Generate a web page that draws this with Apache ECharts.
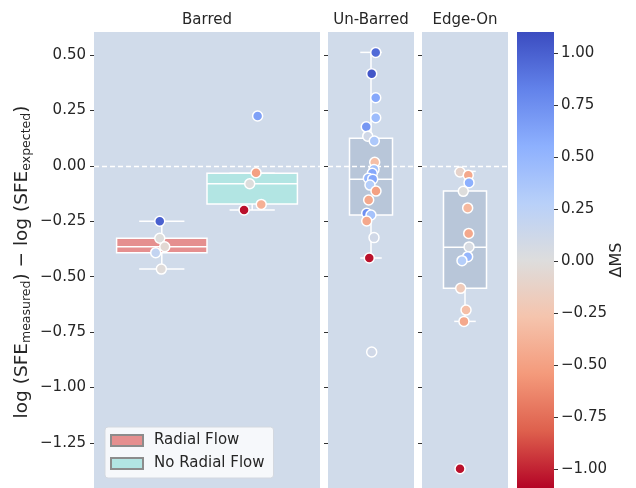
<!DOCTYPE html>
<html><head><meta charset="utf-8">
<script src="https://cdn.jsdelivr.net/npm/echarts@6/dist/echarts.min.js"></script>
<style>html,body{margin:0;padding:0;background:#fff}#c{width:636px;height:488px}</style>
</head><body><div id="c"></div>
<script>
// ---------- data ----------
const panelNames = ['Barred', 'Un-Barred', 'Edge-On'];
const hueNames = ['Radial Flow', 'No Radial Flow'];
const yTicks = [0.5, 0.25, 0, -0.25, -0.5, -0.75, -1.0, -1.25];
const cbTicks = [1.0, 0.75, 0.5, 0.25, 0, -0.25, -0.5, -0.75, -1.0];

// Barred, Radial Flow
const radialX  = [-0.209, -0.209, -0.187, -0.227, -0.202];
const radialY  = [-0.250, -0.327, -0.365, -0.392, -0.466];
const radialMS = [1.0, 0.0, -0.05, 0.2, -0.02];
const radialBox = [-0.466, -0.392, -0.365, -0.327, -0.250]; // lo, q1, med, q3, hi

// Barred, No Radial Flow
const noRadX  = [0.217, 0.189, 0.240, 0.164, 0.224];
const noRadY  = [-0.031, -0.081, -0.174, -0.199, 0.225];
const noRadMS = [-0.5, 0.0, -0.4, -1.05, 0.65];
const noRadBox = [-0.199, -0.172, -0.081, -0.034, -0.034];

// Un-Barred
const unbX  = [0.055, 0.008, 0.055, 0.055, -0.055, -0.038, 0.038, 0.043, 0.035, 0.015, -0.031, 0.020, -0.012, 0.058, -0.027, -0.050, 0.000, -0.050, 0.035, -0.020, 0.008];
const unbY  = [0.512, 0.416, 0.307, 0.217, 0.176, 0.134, 0.112, 0.016, -0.016, -0.034, -0.056, -0.060, -0.087, -0.114, -0.154, -0.214, -0.222, -0.249, -0.324, -0.416, -0.840];
const unbMS = [0.95, 1.05, 0.6, 0.45, 0.7, 0.1, 0.35, -0.3, 0.4, 0.6, 0.5, 0.6, 0.3, -0.5, -0.45, 0.75, 0.4, -0.45, 0.1, -1.05, 0.1];
const unbBox = [-0.416, -0.222, -0.060, 0.124, 0.512];

// Edge-On
const edgeX  = [-0.058, 0.038, 0.047, -0.020, 0.031, 0.043, 0.047, 0.031, -0.035, -0.050, 0.012, -0.012, -0.058];
const edgeY  = [-0.028, -0.042, -0.076, -0.115, -0.190, -0.305, -0.366, -0.410, -0.428, -0.553, -0.651, -0.702, -1.367];
const edgeMS = [-0.1, -0.45, 0.55, 0.0, -0.35, -0.45, 0.05, 0.5, 0.3, -0.2, -0.3, -0.45, -1.05];
const edgeBox = [-0.702, -0.553, -0.368, -0.114, -0.025];

// ---------- styling / layout ----------
const yMin = -1.454, yMax = 0.604;
const cbMin = -1.09, cbMax = 1.10;
const FONT = 'DejaVu Sans';
const TXT = '#262626';
const BG = '#d0dbea';
const coolwarm = ['#3b4cc0', '#6282ea', '#8db0fe', '#b8d0f9', '#dddddd', '#f5c4ad', '#f49a7b', '#de604d', '#b40426'];
const coolwarmRev = coolwarm.slice().reverse();
const fmt = v => (v < 0 ? '\u2212' : '') + Math.abs(v).toFixed(2);

const grids = [
  {left: 94, top: 32, width: 226, height: 456},
  {left: 328, top: 32, width: 86, height: 456},
  {left: 422, top: 32, width: 86, height: 456},
  {left: 517, top: 32, width: 37, height: 456}
].map(g => Object.assign(g, {show: g.left < 500, backgroundColor: BG, borderWidth: 0, containLabel: false}));

const xAxes = [0, 1, 2].map(i => ({gridIndex: i, type: 'value', min: -0.5, max: 0.5, show: false}));
xAxes.push({gridIndex: 3, type: 'value', min: 0, max: 1, show: false});

const yAxes = [0, 1, 2].map(i => ({
  gridIndex: i, type: 'value', position: 'left', min: yMin, max: yMax,
  axisLine: {show: false, onZero: false},
  axisTick: {show: true, length: 4, lineStyle: {color: '#333', width: 1}, customValues: yTicks},
  axisLabel: {show: i === 0, customValues: yTicks, formatter: fmt, fontSize: 15, fontFamily: FONT, color: TXT, margin: 8},
  splitLine: {show: false}
}));
yAxes.push({
  gridIndex: 3, type: 'value', position: 'right', min: cbMin, max: cbMax,
  axisLine: {show: false, onZero: false},
  axisTick: {show: true, length: 4, lineStyle: {color: '#333', width: 1}, customValues: cbTicks},
  axisLabel: {customValues: cbTicks, formatter: fmt, fontSize: 15, fontFamily: FONT, color: TXT, margin: 7},
  splitLine: {show: false}
});

function boxRender(width, fill) {
  return function (params, api) {
    const c = api.value(0);
    const lo = api.value(1), q1 = api.value(2), med = api.value(3), q3 = api.value(4), hi = api.value(5);
    const tl = api.coord([c - width / 2, q3]);
    const br = api.coord([c + width / 2, q1]);
    const cx = api.coord([c, med])[0];
    const capL = api.coord([c - width / 4, lo])[0], capR = api.coord([c + width / 4, lo])[0];
    const yLo = api.coord([c, lo])[1], yHi = api.coord([c, hi])[1], yMed = api.coord([c, med])[1];
    const ls = {stroke: '#fff', lineWidth: 1.5};
    return {type: 'group', children: [
      {type: 'line', shape: {x1: cx, y1: br[1], x2: cx, y2: yLo}, style: ls},
      {type: 'line', shape: {x1: cx, y1: tl[1], x2: cx, y2: yHi}, style: ls},
      {type: 'line', shape: {x1: capL, y1: yLo, x2: capR, y2: yLo}, style: ls},
      {type: 'line', shape: {x1: capL, y1: yHi, x2: capR, y2: yHi}, style: ls},
      {type: 'rect', shape: {x: tl[0], y: tl[1], width: br[0] - tl[0], height: br[1] - tl[1]}, style: {fill: fill, stroke: '#fff', lineWidth: 1.5}},
      {type: 'line', shape: {x1: tl[0], y1: yMed, x2: br[0], y2: yMed}, style: ls}
    ]};
  };
}

const zeroLine = {silent: true, symbol: 'none', label: {show: false},
  lineStyle: {color: '#fff', type: [5, 3], width: 1.4}, data: [{yAxis: 0}]};

const boxSeries = [
  {name: hueNames[0], grid: 0, center: -0.2, width: 0.4, fill: '#e58f8f', stats: radialBox},
  {name: hueNames[1], grid: 0, center: 0.2, width: 0.4, fill: '#b2e5e3', stats: noRadBox},
  {name: 'Un-Barred box', grid: 1, center: 0, width: 0.5, fill: '#b8c6d9', stats: unbBox},
  {name: 'Edge-On box', grid: 2, center: 0, width: 0.5, fill: '#b8c6d9', stats: edgeBox}
].map((b, i) => ({
  type: 'custom', name: b.name, xAxisIndex: b.grid, yAxisIndex: b.grid, z: 2,
  itemStyle: {color: b.fill, borderColor: '#8c8c8c', borderWidth: 1},
  renderItem: boxRender(b.width, b.fill),
  encode: {x: 0, y: [1, 2, 3, 4, 5]},
  data: [[b.center].concat(b.stats)],
  markLine: (i === 0 || i >= 2) ? zeroLine : undefined
}));

const zip = (xs, ys, ms) => xs.map((x, i) => [x, ys[i], ms[i]]);
const pointSets = [
  {name: 'Barred RF pts', grid: 0, data: zip(radialX, radialY, radialMS)},
  {name: 'Barred NRF pts', grid: 0, data: zip(noRadX, noRadY, noRadMS)},
  {name: 'Un-Barred pts', grid: 1, data: zip(unbX, unbY, unbMS)},
  {name: 'Edge-On pts', grid: 2, data: zip(edgeX, edgeY, edgeMS)}
];
const scatterSeries = pointSets.map(p => ({
  type: 'scatter', name: p.name, xAxisIndex: p.grid, yAxisIndex: p.grid, z: 5,
  symbol: 'circle', symbolSize: 10,
  itemStyle: {borderColor: '#fff', borderWidth: 1.5, opacity: 1},
  encode: {x: 0, y: 1},
  data: p.data
}));

const cbSeries = {
  type: 'custom', name: 'colorbar', xAxisIndex: 3, yAxisIndex: 3, silent: true,
  encode: {x: 0, y: [1, 2]},
  data: [[0, cbMin, cbMax]],
  renderItem: function (params, api) {
    const p1 = api.coord([0, api.value(2)]);
    const p2 = api.coord([1, api.value(1)]);
    return {type: 'rect', shape: {x: p1[0], y: p1[1], width: p2[0] - p1[0], height: p2[1] - p1[1]},
      style: {fill: new echarts.graphic.LinearGradient(0, 0, 0, 1,
        coolwarm.map((c, i) => ({offset: i / (coolwarm.length - 1), color: c})))}};
  }
};

const panelCenters = [0, 1, 2].map(i => grids[i].left + grids[i].width / 2);

const option = {
  animation: false,
  backgroundColor: '#fff',
  grid: grids,
  xAxis: xAxes,
  yAxis: yAxes,
  visualMap: {type: 'continuous', show: false, seriesIndex: [4, 5, 6, 7], dimension: 2,
    min: cbMin, max: cbMax, inRange: {color: coolwarmRev}},
  legend: {
    data: hueNames, orient: 'vertical', left: 105, top: 427,
    icon: 'rect', itemWidth: 32, itemHeight: 11, itemGap: 7,
    padding: [5.5, 9, 6.5, 5],
    backgroundColor: 'rgba(255,255,255,0.8)', borderColor: '#d3d8e0', borderWidth: 1, borderRadius: 3,
    textStyle: {fontSize: 15, fontFamily: FONT, color: TXT, lineHeight: 16, padding: [0, 0, 0, 6]},
    selectedMode: false
  },
  graphic: [
    ...panelNames.map((n, i) => ({type: 'text', x: panelCenters[i], y: 20.5,
      style: {text: n, fontSize: 15, fontFamily: FONT, fill: TXT, textAlign: 'center', textVerticalAlign: 'middle'}})),
    {type: 'text', x: 22, y: 262, rotation: Math.PI / 2,
      style: {text: '{n|log (SFE}{s|measured}{n|) \u2212 log (SFE}{s|expected}{n|)}',
        textAlign: 'center', textVerticalAlign: 'middle', fill: TXT, fontFamily: FONT,
        rich: {n: {fontSize: 18.5, fontFamily: FONT, fill: TXT, lineHeight: 20},
               s: {fontSize: 12.5, fontFamily: FONT, fill: TXT, lineHeight: 12, padding: [10, 0, 0, 0]}}}},
    {type: 'text', x: 617, y: 260, rotation: Math.PI / 2,
      style: {text: '\u0394MS', fontSize: 16, fontFamily: FONT, fill: TXT, textAlign: 'center', textVerticalAlign: 'middle'}}
  ],
  series: [...boxSeries, ...scatterSeries, cbSeries]
};

const chart = echarts.init(document.getElementById('c'), null, {renderer: 'canvas'});
chart.setOption(option);
</script>
</body></html>
